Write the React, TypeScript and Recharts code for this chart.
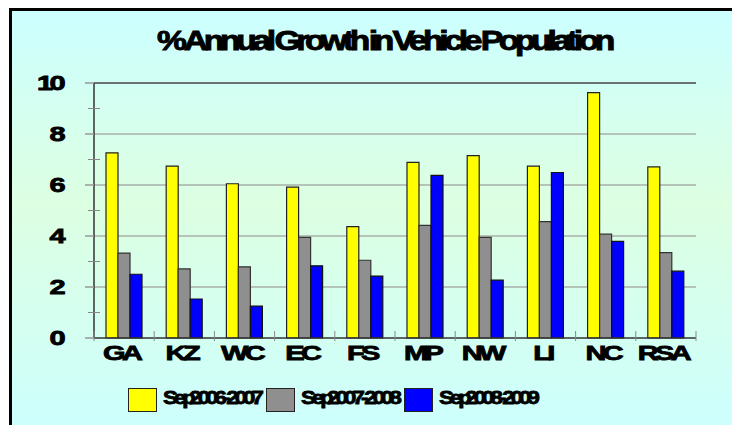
import React from "react";
import {
  BarChart,
  Bar,
  XAxis,
  YAxis,
  CartesianGrid,
  ReferenceLine,
} from "recharts";

/* ── data ───────────────────────────── */
const regions = ["GA", "KZ", "WC", "EC", "FS", "MP", "NW", "LI", "NC", "RSA"];
const sep0607 = [7.26, 6.74, 6.05, 5.92, 4.37, 6.89, 7.15, 6.74, 9.62, 6.71];
const sep0708 = [3.33, 2.71, 2.79, 3.95, 3.05, 4.42, 3.95, 4.56, 4.07, 3.35];
const sep0809 = [2.5, 1.53, 1.25, 2.83, 2.43, 6.38, 2.27, 6.49, 3.79, 2.62];
const seriesNames = ["Sep 2006-2007", "Sep 2007-2008", "Sep 2008-2009"];
const yTicks = [0, 1, 2, 3, 4, 5, 6, 7, 8, 9, 10];

const COLORS = ["#ffff00", "#8f8f8f", "#0000ff"];
const FONT = "'Liberation Sans', Arial, sans-serif";
const SX = 1.45; // the original's text is stretched wide

const data = regions.map((r, i) => ({
  region: r,
  s1: sep0607[i],
  s2: sep0708[i],
  s3: sep0809[i],
}));

/* y tick: labels on even values, short marks on odd ones */
function YTick(props: any) {
  const { x, y, payload } = props;
  const v = payload.value as number;
  const axisX = x + 34;
  if (v % 2 === 1) {
    return <line x1={axisX - 6} x2={axisX + 6} y1={y} y2={y} stroke="#888" strokeWidth={1} />;
  }
  return (
    <g>
      <line x1={axisX - 9} x2={axisX} y1={y} y2={y} stroke="#999" strokeWidth={1.5} />
      <text
        transform={`translate(${x + 2},${y + 7}) scale(${SX},1)`}
        textAnchor="end"
        fontFamily={FONT}
        fontWeight="bold"
        fontSize={20}
        letterSpacing={-2.5}
        fill="#000"
        stroke="#000"
        strokeWidth={0.8}
      >
        {v}
      </text>
    </g>
  );
}

/* x tick: category label + boundary marks */
function XTick(props: any) {
  const { x, y, payload, index } = props;
  const half = 30.1;
  const axisY = y - 10;
  return (
    <g>
      <line x1={x - half} x2={x - half} y1={axisY - 5} y2={axisY + 5} stroke="#888" />
      {index === regions.length - 1 && (
        <line x1={x + half} x2={x + half} y1={axisY - 5} y2={axisY + 5} stroke="#888" />
      )}
      <text
        transform={`translate(${x - 3},${y + 14}) scale(${SX},1)`}
        textAnchor="middle"
        fontFamily={FONT}
        fontWeight="bold"
        fontSize={20}
        letterSpacing={-2.5}
        fill="#000"
        stroke="#000"
        strokeWidth={0.8}
      >
        {payload.value}
      </text>
    </g>
  );
}

const legendX = [128, 266, 404];

export default function App() {
  return (
    <div style={{ position: "relative", width: 732, height: 425, overflow: "hidden" }}>
      <style>{`body{margin:0;overflow:hidden}`}</style>

      {/* frame + background */}
      <div
        style={{
          position: "absolute",
          left: 9,
          top: 8,
          width: 740,
          height: 430,
          borderLeft: "3px solid #000",
          borderTop: "3px solid #000",
          background: "linear-gradient(#ccffff 0%, #ddffe2 45%, #ccffff 100%)",
        }}
      />

      {/* title */}
      <div
        style={{
          position: "absolute",
          left: 384,
          top: 25,
          transform: "translateX(-50%) scaleX(1.2)",
          fontFamily: FONT,
          fontWeight: "bold",
          fontSize: 28,
          letterSpacing: -3.6,
          wordSpacing: -2,
          color: "#000",
          WebkitTextStroke: "0.9px #000",
          whiteSpace: "nowrap",
        }}
      >
        % Annual Growth in Vehicle Population
      </div>

      <div style={{ position: "absolute", left: 0, top: 0 }}>
        <BarChart
          width={732}
          height={425}
          data={data}
          margin={{ top: 83, right: 36, bottom: 57, left: 64 }}
          barGap={0}
          barSize={12}
        >
          <CartesianGrid
            vertical={false}
            horizontalValues={[2, 4, 6, 8]}
            stroke="#a8b0a8"
            strokeWidth={1.5}
          />
          <XAxis
            dataKey="region"
            tick={<XTick />}
            tickLine={false}
            axisLine={{ stroke: "#333", strokeWidth: 1.5 }}
            height={30}
            interval={0}
          />
          <YAxis
            domain={[0, 10]}
            ticks={yTicks}
            interval={0}
            width={30}
            tickSize={0}
            tickMargin={34}
            tick={<YTick />}
            tickLine={false}
            axisLine={{ stroke: "#333", strokeWidth: 1.5 }}
          />
          <YAxis
            yAxisId="right"
            orientation="right"
            domain={[0, 10]}
            width={0}
            tick={false}
            tickLine={false}
            axisLine={{ stroke: "#444", strokeWidth: 1.5 }}
          />
          <ReferenceLine y={10} stroke="#444" strokeWidth={1.5} />
          <Bar dataKey="s1" name={seriesNames[0]} fill={COLORS[0]} stroke="#222" strokeWidth={1.2} isAnimationActive={false} />
          <Bar dataKey="s2" name={seriesNames[1]} fill={COLORS[1]} stroke="#333" strokeWidth={1.2} isAnimationActive={false} />
          <Bar dataKey="s3" name={seriesNames[2]} fill={COLORS[2]} stroke="#111" strokeWidth={1.2} isAnimationActive={false} />
        </BarChart>
      </div>

      {/* legend */}
      {seriesNames.map((n, i) => (
        <React.Fragment key={n}>
          <div
            style={{
              position: "absolute",
              left: legendX[i],
              top: 388,
              width: 27,
              height: 22,
              background: COLORS[i],
              border: "1.5px solid #222",
            }}
          />
          <div
            style={{
              position: "absolute",
              left: legendX[i] + 35,
              top: 387,
              transform: "scaleX(1.17)",
              transformOrigin: "0 0",
              fontFamily: FONT,
              fontWeight: "bold",
              fontSize: 19,
              letterSpacing: -3.4,
              wordSpacing: -4,
              color: "#000",
              WebkitTextStroke: "0.8px #000",
              whiteSpace: "nowrap",
            }}
          >
            {n}
          </div>
        </React.Fragment>
      ))}
    </div>
  );
}
